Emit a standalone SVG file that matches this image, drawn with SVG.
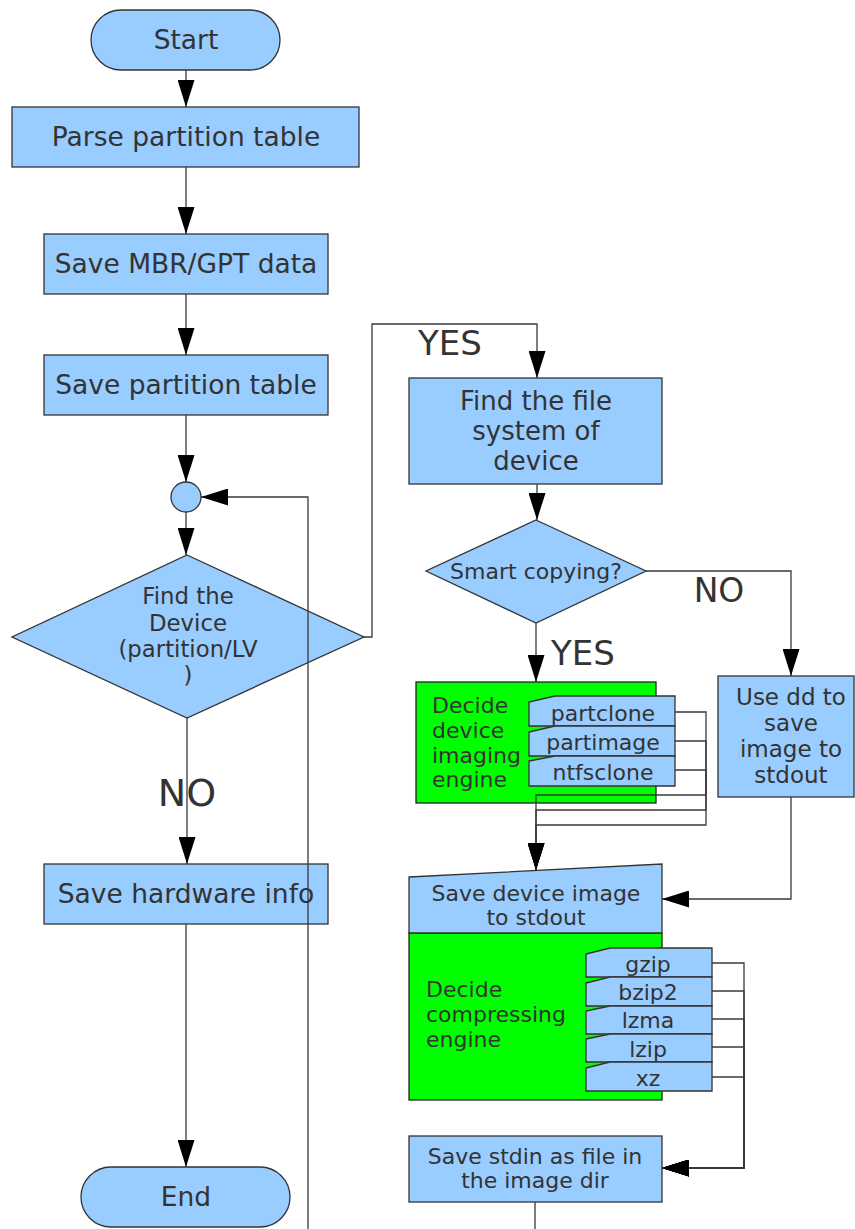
<svg xmlns="http://www.w3.org/2000/svg" width="855" height="1229" viewBox="0 0 855 1229">
<defs>
<marker id="ah" viewBox="0 0 27 17" refX="27" refY="8.5" markerWidth="27" markerHeight="17" markerUnits="userSpaceOnUse" orient="auto"><path d="M0,0 L27,8.5 L0,17 z" fill="#000"/></marker>
<style>
.b{fill:#99ccff;stroke:#333;stroke-width:1.3}
.g{fill:#00ff00;stroke:#222;stroke-width:1.3}
.t{font-family:"DejaVu Sans","Liberation Sans",sans-serif;fill:#333;text-anchor:middle}
.l{text-anchor:start}
.c{fill:none;stroke:#3a3a3a;stroke-width:1.3}
.a{marker-end:url(#ah)}
</style>
</defs>
<rect width="855" height="1229" fill="#fff"/>
<g id="start"><rect class="b" x="91" y="10" width="189" height="60" rx="30"/><text class="t" x="186" y="49" font-size="26.5">Start</text></g>
<g id="parse"><rect class="b" x="12" y="107" width="347" height="60"/><text class="t" x="186" y="146" font-size="26.5">Parse partition table</text></g>
<g id="mbr"><rect class="b" x="44" y="234" width="284" height="60"/><text class="t" x="186" y="273" font-size="26.5">Save MBR/GPT data</text></g>
<g id="ptable"><rect class="b" x="44" y="355" width="284" height="60"/><text class="t" x="186" y="394" font-size="26.5">Save partition table</text></g>
<g id="join"><circle class="b" cx="186" cy="497" r="15"/></g>
<g id="finddev"><polygon class="b" points="187,555 364,637 187,718 12,637"/>
<text class="t" x="188" y="604" font-size="22.8">Find the</text>
<text class="t" x="188" y="631" font-size="22.8">Device</text>
<text class="t" x="188" y="657" font-size="22.8">(partition/LV</text>
<text class="t" x="188" y="683" font-size="22.8">)</text></g>
<g id="hw"><rect class="b" x="44" y="864" width="284" height="60"/><text class="t" x="186" y="903" font-size="26.5">Save hardware info</text></g>
<g id="end"><rect class="b" x="81" y="1167" width="209" height="60" rx="30"/><text class="t" x="186" y="1206" font-size="26.5">End</text></g>
<g id="findfs"><rect class="b" x="409" y="378" width="253" height="106"/>
<text class="t" x="536" y="410" font-size="26">Find the file</text>
<text class="t" x="536" y="440" font-size="26">system of</text>
<text class="t" x="536" y="470" font-size="26">device</text></g>
<g id="smart"><polygon class="b" points="536,520 646,571 536,623 426,571"/><text class="t" x="536" y="579" font-size="22">Smart copying?</text></g>
<g id="dd"><rect class="b" x="718" y="676" width="136" height="121"/>
<text class="t" x="791" y="705" font-size="23">Use dd to</text>
<text class="t" x="791" y="731" font-size="23">save</text>
<text class="t" x="791" y="757" font-size="23">image to</text>
<text class="t" x="791" y="783" font-size="23">stdout</text></g>
<g id="imgengine"><rect class="g" x="416" y="682" width="240" height="121"/>
<text class="t l" x="432" y="713" font-size="22">Decide</text>
<text class="t l" x="432" y="738" font-size="22">device</text>
<text class="t l" x="432" y="763" font-size="22">imaging</text>
<text class="t l" x="432" y="787" font-size="22">engine</text>
<g id="partclone"><polygon class="b" points="529,702 555,696 675,696 675,726 529,726"/><text class="t" x="603" y="721" font-size="22">partclone</text></g>
<g id="partimage"><polygon class="b" points="529,732 555,726 675,726 675,756 529,756"/><text class="t" x="603" y="750" font-size="22">partimage</text></g>
<g id="ntfsclone"><polygon class="b" points="529,761 555,756 675,756 675,786 529,786"/><text class="t" x="603" y="780" font-size="22">ntfsclone</text></g></g>
<g id="saveimg"><rect class="g" x="409" y="933" width="253" height="167"/><polygon class="b" points="409,877 662,864 662,933 409,933"/>
<text class="t" x="536" y="901" font-size="22">Save device image</text>
<text class="t" x="536" y="925" font-size="22">to stdout</text>
<text class="t l" x="426" y="997" font-size="22">Decide</text>
<text class="t l" x="426" y="1022" font-size="22">compressing</text>
<text class="t l" x="426" y="1047" font-size="22">engine</text>
<g id="gzip"><polygon class="b" points="586,954 610,948 712,948 712,977 586,977"/><text class="t" x="648" y="972" font-size="22">gzip</text></g>
<g id="bzip2"><polygon class="b" points="586,983 610,977 712,977 712,1006 586,1006"/><text class="t" x="648" y="1000" font-size="22">bzip2</text></g>
<g id="lzma"><polygon class="b" points="586,1011 610,1006 712,1006 712,1034 586,1034"/><text class="t" x="648" y="1028" font-size="22">lzma</text></g>
<g id="lzip"><polygon class="b" points="586,1039 610,1034 712,1034 712,1062 586,1062"/><text class="t" x="648" y="1057" font-size="22">lzip</text></g>
<g id="xz"><polygon class="b" points="586,1068 610,1062 712,1062 712,1091 586,1091"/><text class="t" x="648" y="1086" font-size="22">xz</text></g></g>
<g id="savestdin"><rect class="b" x="409" y="1136" width="253" height="66"/>
<text class="t" x="535" y="1164" font-size="22">Save stdin as file in</text>
<text class="t" x="535" y="1188" font-size="22">the image dir</text></g>
<g id="connectors">
<path class="c a" d="M186,70 V107"/>
<path class="c a" d="M186,167 V234"/>
<path class="c a" d="M186,294 V355"/>
<path class="c a" d="M186,415 V482"/>
<path class="c a" d="M186,512 V555"/>
<path class="c a" d="M187,718 V864"/>
<path class="c a" d="M186,924 V1167"/>
<path class="c a" d="M308,1229 V497 H201"/>
<path class="c a" d="M364,637 H372 V324 H537 V378"/>
<path class="c a" d="M537,484 V520"/>
<path class="c a" d="M536,623 V682"/>
<path class="c a" d="M646,571 H791 V676"/>
<path class="c a" d="M791,797 V899 H662"/>
<path class="c a" d="M675,712 H706 V795 H536 V870"/>
<path class="c a" d="M675,741 H706 V810 H536 V870"/>
<path class="c a" d="M675,770 H706 V825 H536 V870"/>
<path class="c a" d="M712,963 H744 V1168 H662"/>
<path class="c a" d="M712,991 H744 V1168 H662"/>
<path class="c a" d="M712,1019 H744 V1168 H662"/>
<path class="c a" d="M712,1047 H744 V1168 H662"/>
<path class="c a" d="M712,1077 H744 V1168 H662"/>
<path class="c" d="M535,1202 V1229"/>
<text class="t" x="450" y="355" font-size="34">YES</text>
<text class="t" x="583" y="665" font-size="34">YES</text>
<text class="t" x="719" y="602" font-size="33">NO</text>
<text class="t" x="187" y="806" font-size="38">NO</text>
</g>
</svg>
